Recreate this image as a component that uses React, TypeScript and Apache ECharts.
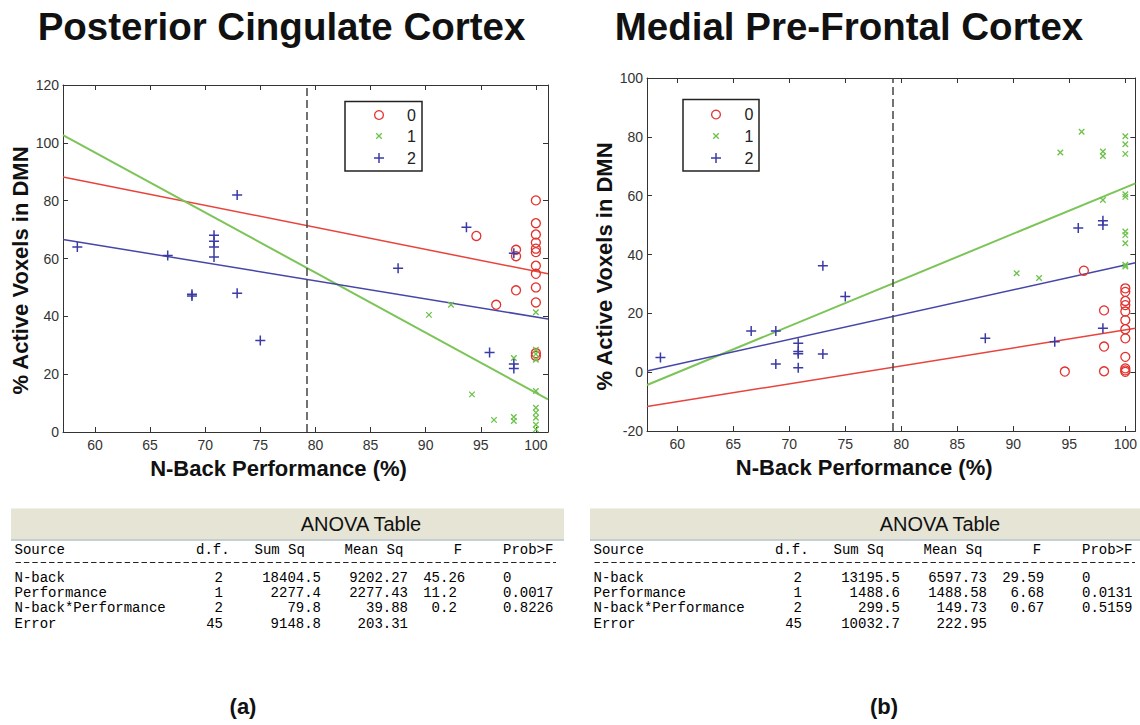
import React, { useEffect, useRef } from 'react';
import * as echarts from 'echarts';

// ---------- data ----------
const GROUPS = ['0', '1', '2'];
const COLORS = ['#e2312d', '#6cc24a', '#3b3ba6'];
const LINE_COLORS = ['#e8433c', '#7cc458', '#4646a8'];
const X_TICKS = [60, 65, 70, 75, 80, 85, 90, 95, 100];
const CUTOFF = 79.2;

const PCC_TITLE = 'Posterior Cingulate Cortex';
const MPFC_TITLE = 'Medial Pre-Frontal Cortex';
const X_NAME = 'N-Back Performance (%)';
const Y_NAME = '% Active Voxels in DMN';

const PCC_X_RANGE = [57.1, 101.1];
const PCC_Y_RANGE = [0, 120];
const PCC_G0 = [[94.6, 67.8], [96.4, 44], [98.2, 63], [98.2, 60.8], [98.2, 49], [100, 80.1], [100, 72.2], [100, 68.3], [100, 65.5], [100, 63.4], [100, 62.2], [100, 57.5], [100, 54.7], [100, 50], [100, 44.8], [100, 27.3], [100, 26.3]];
const PCC_G1 = [[90.3, 40.5], [92.3, 44], [94.2, 13], [96.2, 4.2], [98, 25.6], [98, 5.2], [98, 3.8], [100, 41.4], [100, 28.5], [100, 27], [100, 25], [100, 14.2], [100, 8.4], [100, 6.7], [100, 4.9], [100, 2.5], [100, 0.9]];
const PCC_G2 = [[58.4, 64], [66.6, 61], [68.8, 47], [68.8, 47.6], [70.8, 68], [70.8, 66], [70.8, 64], [70.8, 60.5], [72.9, 82], [72.9, 48], [75, 31.6], [87.5, 56.6], [93.7, 70.8], [95.8, 27.5], [98, 61.8], [98, 23.5], [98, 22]];
const PCC_FITS = [
  [[57.1, 88.2], [101.1, 54.7]],
  [[57.1, 102.7], [101.1, 11.3]],
  [[57.1, 66.6], [101.1, 39.1]],
];

const MPFC_X_RANGE = [57.3, 100.9];
const MPFC_Y_RANGE = [-20, 100];
const MPFC_G0 = [[94.6, 0.2], [96.3, 34.5], [98.1, 21], [98.1, 8.7], [98.1, 0.3], [100, 28.5], [100, 27.3], [100, 24.2], [100, 22.8], [100, 20.6], [100, 17.7], [100, 14.6], [100, 11.5], [100, 5.2], [100, 1.3], [100, 0.6], [100, 0.1]];
const MPFC_G1 = [[90.3, 33.6], [92.3, 32], [94.2, 74.7], [96.1, 81.7], [98, 75], [98, 73.5], [98, 58.5], [100, 80.2], [100, 77.5], [100, 74.2], [100, 60.5], [100, 59.6], [100, 47.8], [100, 46.6], [100, 43.8], [100, 36.5], [100, 35.9]];
const MPFC_G2 = [[58.5, 5], [66.6, 14], [68.8, 14], [68.8, 2.8], [70.8, 9.8], [70.8, 7], [70.8, 6.3], [70.8, 1.5], [73, 36.2], [73, 6.2], [75, 25.7], [87.5, 11.5], [93.7, 10.3], [95.8, 49], [98, 51.5], [98, 50], [98, 14.9]];
const MPFC_FITS = [
  [[57.3, -11.7], [100.9, 14.9]],
  [[57.3, -4.35], [100.9, 64.2]],
  [[57.3, 0.4], [100.9, 37.2]],
];

const ANOVA_HEADERS = ['Source', 'd.f.', 'Sum Sq', 'Mean Sq', 'F', 'Prob>F'];
const PCC_ANOVA = [
  ['N-back', '2', '18404.5', '9202.27', '45.26', '0'],
  ['Performance', '1', '2277.4', '2277.43', '11.2', '0.0017'],
  ['N-back*Performance', '2', '79.8', '39.88', '0.2', '0.8226'],
  ['Error', '45', '9148.8', '203.31', '', ''],
];
const MPFC_ANOVA = [
  ['N-back', '2', '13195.5', '6597.73', '29.59', '0'],
  ['Performance', '1', '1488.6', '1488.58', '6.68', '0.0131'],
  ['N-back*Performance', '2', '299.5', '149.73', '0.67', '0.5159'],
  ['Error', '45', '10032.7', '222.95', '', ''],
];

// ---------- layout ----------
const SANS = 'Liberation Sans, Arial, Helvetica, sans-serif';
const MONO = 'Liberation Mono, Courier New, monospace';
const AXIS_COLOR = '#333';

const PANELS = [
  {
    title: PCC_TITLE, titleX: 281.5, label: '(a)', labelX: 243,
    grid: { left: 63, top: 85, width: 485, height: 347 },
    xr: PCC_X_RANGE, yr: PCC_Y_RANGE, groups: [PCC_G0, PCC_G1, PCC_G2], fits: PCC_FITS,
    yNameGap: 27,
    legend: { x: 345, y: 101.5, w: 77, h: 69.5, mx: 379, tx: 411.5, rows: [115, 136, 158] },
    table: PCC_ANOVA, tableX: 0,
  },
  {
    title: MPFC_TITLE, titleX: 849, label: '(b)', labelX: 884,
    grid: { left: 647, top: 78, width: 490, height: 353 },
    xr: MPFC_X_RANGE, yr: MPFC_Y_RANGE, groups: [MPFC_G0, MPFC_G1, MPFC_G2], fits: MPFC_FITS,
    yNameGap: 29,
    legend: { x: 683, y: 99.5, w: 76, h: 71.5, mx: 716, tx: 749, rows: [114.5, 136, 158] },
    table: MPFC_ANOVA, tableX: 579,
  },
];

function txt(text, x, y, font, align = 'left', vAlign = 'middle', fill = '#111') {
  return {
    type: 'text',
    x, y,
    silent: true,
    style: {
      text, font, fill,
      align, verticalAlign: vAlign,
      textAlign: align, textVerticalAlign: vAlign,
    },
  };
}

function legendIcon(k, cx, cy) {
  const color = COLORS[k];
  if (k === 0) {
    return [{ type: 'circle', silent: true, shape: { cx, cy, r: 4.4 }, style: { fill: 'none', stroke: color, lineWidth: 1.3 } }];
  }
  if (k === 1) {
    const s = 2.8;
    return [
      { type: 'line', silent: true, shape: { x1: cx - s, y1: cy - s, x2: cx + s, y2: cy + s }, style: { stroke: color, lineWidth: 1.3 } },
      { type: 'line', silent: true, shape: { x1: cx - s, y1: cy + s, x2: cx + s, y2: cy - s }, style: { stroke: color, lineWidth: 1.3 } },
    ];
  }
  const s = 5;
  return [
    { type: 'line', silent: true, shape: { x1: cx - s, y1: cy, x2: cx + s, y2: cy }, style: { stroke: color, lineWidth: 1.5 } },
    { type: 'line', silent: true, shape: { x1: cx, y1: cy - s, x2: cx, y2: cy + s }, style: { stroke: color, lineWidth: 1.5 } },
  ];
}

const COLS = { src: 14.5, dfHdr: 196, dfR: 223, ssHdr: 254.5, ssR: 321, msHdr: 344.5, msR: 408, fHdr: 458, fDec: 440, p: 503, end: 556 };
const CHAR_W = 8.4;
const ROW_Y = { band: 508.5, bandH: 31, title: 523.5, head: 549.5, dash: 562.5, rows: [578.3, 593.2, 608.3, 623.5] };

function tableGraphics(ox, rows) {
  const mono = `14px ${MONO}`;
  const out = [];
  out.push({ type: 'rect', silent: true, shape: { x: ox + 11, y: ROW_Y.band, width: 553, height: ROW_Y.bandH }, style: { fill: '#e6e4d4' } });
  out.push({ type: 'line', silent: true, shape: { x1: ox + 11, y1: ROW_Y.band + ROW_Y.bandH + 0.5, x2: ox + 564, y2: ROW_Y.band + ROW_Y.bandH + 0.5 }, style: { stroke: '#b3c0cc', lineWidth: 1.5 } });
  out.push(txt('ANOVA Table', ox + 361, ROW_Y.title, `20px ${SANS}`, 'center', 'middle', '#111'));
  const hy = ROW_Y.head;
  out.push(txt(ANOVA_HEADERS[0], ox + COLS.src, hy, mono, 'left', 'middle', '#000'));
  out.push(txt(ANOVA_HEADERS[1], ox + COLS.dfHdr, hy, mono, 'left', 'middle', '#000'));
  out.push(txt(ANOVA_HEADERS[2], ox + COLS.ssHdr, hy, mono, 'left', 'middle', '#000'));
  out.push(txt(ANOVA_HEADERS[3], ox + COLS.msHdr, hy, mono, 'left', 'middle', '#000'));
  out.push(txt(ANOVA_HEADERS[4], ox + COLS.fHdr, hy, mono, 'center', 'middle', '#000'));
  out.push(txt(ANOVA_HEADERS[5], ox + COLS.p, hy, mono, 'left', 'middle', '#000'));
  // dashed separator row
  out.push({
    type: 'line', silent: true,
    shape: { x1: ox + COLS.src + 1, y1: ROW_Y.dash, x2: ox + COLS.end, y2: ROW_Y.dash },
    style: { stroke: '#222', lineWidth: 1.2, lineDash: [5.4, 3] },
  });
  rows.forEach((r, i) => {
    const y = ROW_Y.rows[i];
    out.push(txt(r[0], ox + COLS.src, y, mono, 'left', 'middle', '#000'));
    out.push(txt(r[1], ox + COLS.dfR, y, mono, 'right', 'middle', '#000'));
    out.push(txt(r[2], ox + COLS.ssR, y, mono, 'right', 'middle', '#000'));
    out.push(txt(r[3], ox + COLS.msR, y, mono, 'right', 'middle', '#000'));
    if (r[4]) {
      const intLen = r[4].split('.')[0].length;
      out.push(txt(r[4], ox + COLS.fDec - intLen * CHAR_W, y, mono, 'left', 'middle', '#000'));
    }
    if (r[5]) out.push(txt(r[5], ox + COLS.p, y, mono, 'left', 'middle', '#000'));
  });
  return out;
}

function buildOption() {
  const grids = [];
  const xAxes = [];
  const yAxes = [];
  const series = [];
  const graphics = [];

  PANELS.forEach((p, pi) => {
    grids.push({ ...p.grid, containLabel: false });
    const lineStyle = { color: AXIS_COLOR, width: 1 };
    const tick = { show: true, inside: true, length: 5, lineStyle: { color: AXIS_COLOR, width: 1 } };
    // bottom x
    xAxes.push({
      type: 'value', gridIndex: pi, position: 'bottom', min: p.xr[0], max: p.xr[1],
      axisLine: { show: true, onZero: false, lineStyle },
      axisTick: { ...tick, customValues: X_TICKS },
      axisLabel: { show: true, customValues: X_TICKS, fontSize: 14, color: '#333', margin: 6, fontFamily: SANS },
      splitLine: { show: false },
      name: X_NAME, nameLocation: 'middle', nameGap: 25,
      nameTextStyle: { fontSize: 22, fontWeight: 'bold', color: '#111', fontFamily: SANS, padding: [0, 54, 0, 0] },
    });
    // top x (mirror)
    xAxes.push({
      type: 'value', gridIndex: pi, position: 'top', min: p.xr[0], max: p.xr[1],
      axisLine: { show: true, onZero: false, lineStyle },
      axisTick: { ...tick, customValues: X_TICKS },
      axisLabel: { show: false, customValues: X_TICKS },
      splitLine: { show: false },
    });
    // left y
    yAxes.push({
      type: 'value', gridIndex: pi, position: 'left', min: p.yr[0], max: p.yr[1], interval: 20,
      axisLine: { show: true, onZero: false, lineStyle },
      axisTick: tick,
      axisLabel: { show: true, fontSize: 14, color: '#333', margin: 4, fontFamily: SANS },
      splitLine: { show: false },
      name: Y_NAME, nameLocation: 'middle', nameGap: p.yNameGap,
      nameTextStyle: { fontSize: 22, fontWeight: 'bold', color: '#111', fontFamily: SANS, padding: [0, 24, 0, 0] },
    });
    // right y (mirror)
    yAxes.push({
      type: 'value', gridIndex: pi, position: 'right', min: p.yr[0], max: p.yr[1], interval: 20,
      axisLine: { show: true, onZero: false, lineStyle },
      axisTick: tick,
      axisLabel: { show: false },
      splitLine: { show: false },
    });

    const xi = pi * 2;
    const yi = pi * 2;

    // fitted lines
    p.fits.forEach((f, k) => {
      series.push({
        type: 'line', name: `fit${k}`, xAxisIndex: xi, yAxisIndex: yi,
        data: f, symbol: 'none', showSymbol: false, silent: true, z: 2,
        lineStyle: { color: LINE_COLORS[k], width: k === 1 ? 2 : 1.5 },
      });
    });

    // scatter groups
    p.groups.forEach((g, k) => {
      const base = {
        type: 'scatter', name: GROUPS[k], xAxisIndex: xi, yAxisIndex: yi, data: g, silent: true, z: 3,
      };
      if (k === 0) {
        series.push({ ...base, symbol: 'circle', symbolSize: 9, itemStyle: { color: 'rgba(0,0,0,0)', borderColor: COLORS[0], borderWidth: 1.3, opacity: 1 } });
      } else if (k === 1) {
        series.push({ ...base, symbol: 'path://M0,0L10,10M10,0L0,10', symbolSize: 5.5, itemStyle: { color: 'rgba(0,0,0,0)', borderColor: COLORS[1], borderWidth: 1.3, opacity: 1 } });
      } else {
        series.push({ ...base, symbol: 'path://M5,0L5,10M0,5L10,5', symbolSize: 10, itemStyle: { color: 'rgba(0,0,0,0)', borderColor: COLORS[2], borderWidth: 1.5, opacity: 1 } });
      }
    });

    // dashed cutoff line
    series.push({
      type: 'line', name: `cutoff${pi}`, xAxisIndex: xi, yAxisIndex: yi, data: [], silent: true,
      markLine: {
        silent: true, symbol: ['none', 'none'], label: { show: false },
        lineStyle: { type: [8, 4], color: '#444', width: 1.5 },
        data: [{ xAxis: CUTOFF }],
      },
    });

    // titles & panel labels
    graphics.push(txt(p.title, p.titleX, 26.5, `bold 38.5px ${SANS}`, 'center', 'middle', '#111'));
    graphics.push(txt(p.label, p.labelX, 706, `bold 22px ${SANS}`, 'center', 'middle', '#111'));

    // legend box
    const L = p.legend;
    graphics.push({ type: 'rect', silent: true, z: 10, shape: { x: L.x, y: L.y, width: L.w, height: L.h }, style: { fill: '#fff', stroke: '#222', lineWidth: 1.5 } });
    GROUPS.forEach((name, k) => {
      legendIcon(k, L.mx, L.rows[k]).forEach((el) => graphics.push({ ...el, z: 11 }));
      graphics.push({ ...txt(name, L.tx, L.rows[k], `16px ${SANS}`, 'center', 'middle', '#222'), z: 11 });
    });

    // ANOVA table
    tableGraphics(p.tableX, p.table).forEach((el) => graphics.push(el));
  });

  return {
    animation: false,
    backgroundColor: '#fff',
    textStyle: { fontFamily: SANS },
    grid: grids,
    xAxis: xAxes,
    yAxis: yAxes,
    series,
    graphic: { elements: graphics },
  };
}

export default function App() {
  const ref = useRef(null);
  useEffect(() => {
    const chart = echarts.init(ref.current, null, { renderer: 'svg' });
    chart.setOption(buildOption());
    return () => chart.dispose();
  }, []);
  return (
    <div
      ref={ref}
      style={{ position: 'absolute', left: 0, top: 0, width: 1140, height: 725, background: '#fff' }}
    />
  );
}
